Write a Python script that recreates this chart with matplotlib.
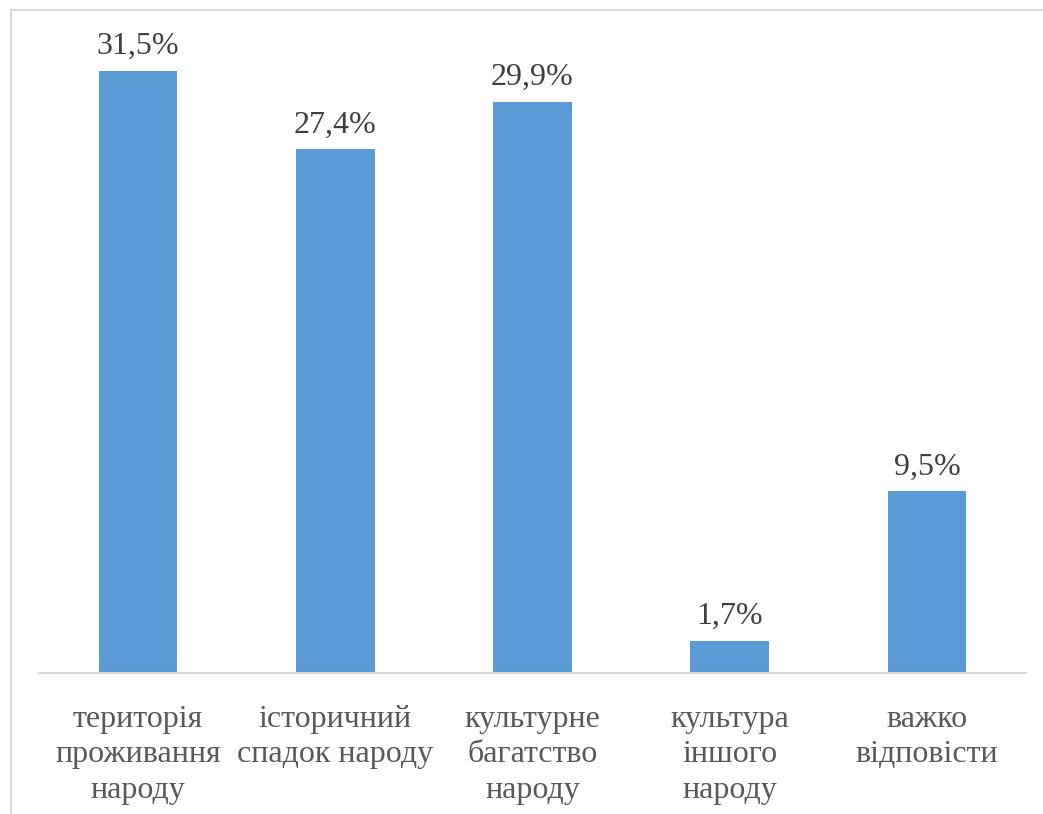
import matplotlib.pyplot as plt
from matplotlib.lines import Line2D

categories = ["територія\nпроживання\nнароду", "історичний\nспадок народу",
              "культурне\nбагатство\nнароду", "культура\nіншого\nнароду",
              "важко\nвідповісти"]
values = [31.5, 27.4, 29.9, 1.7, 9.5]
value_labels = ["31,5%", "27,4%", "29,9%", "1,7%", "9,5%"]

plt.rcParams['font.family'] = ['Liberation Serif', 'DejaVu Serif']

fig = plt.figure(figsize=(10.43, 8.14), dpi=100)
ax = fig.add_axes([39.4 / 1043, 141 / 814, 986.2 / 1043, 623 / 814])

x = range(len(values))
bars = ax.bar(x, values, width=0.4, color='#5B9BD5', zorder=2)

for b, lab in zip(bars, value_labels):
    ax.annotate(lab, (b.get_x() + b.get_width() / 2, b.get_height()),
                xytext=(0, 7), textcoords='offset points',
                ha='center', va='bottom', fontsize=23, color='#404040',
                annotation_clip=False)

ax.set_xlim(-0.5, 4.5)
ax.set_ylim(0, 32.6)
ax.set_xticks(list(x))
ax.set_xticklabels(categories, fontsize=23, color='#595959', linespacing=1.29)
ax.tick_params(axis='x', length=0, pad=23)
ax.set_yticks([])
for s in ['top', 'left', 'right']:
    ax.spines[s].set_visible(False)
ax.spines['bottom'].set_color('#D9D9D9')
ax.spines['bottom'].set_linewidth(1.5)

# frame lines along the top and left edge
fig.add_artist(Line2D([11 / 1043, 1], [1 - 10 / 814, 1 - 10 / 814],
                      color='#D9D9D9', lw=1.5, transform=fig.transFigure))
fig.add_artist(Line2D([11 / 1043, 11 / 1043], [0, 1 - 10 / 814],
                      color='#D9D9D9', lw=1.5, transform=fig.transFigure))

fig.savefig('out.png', dpi=100)
